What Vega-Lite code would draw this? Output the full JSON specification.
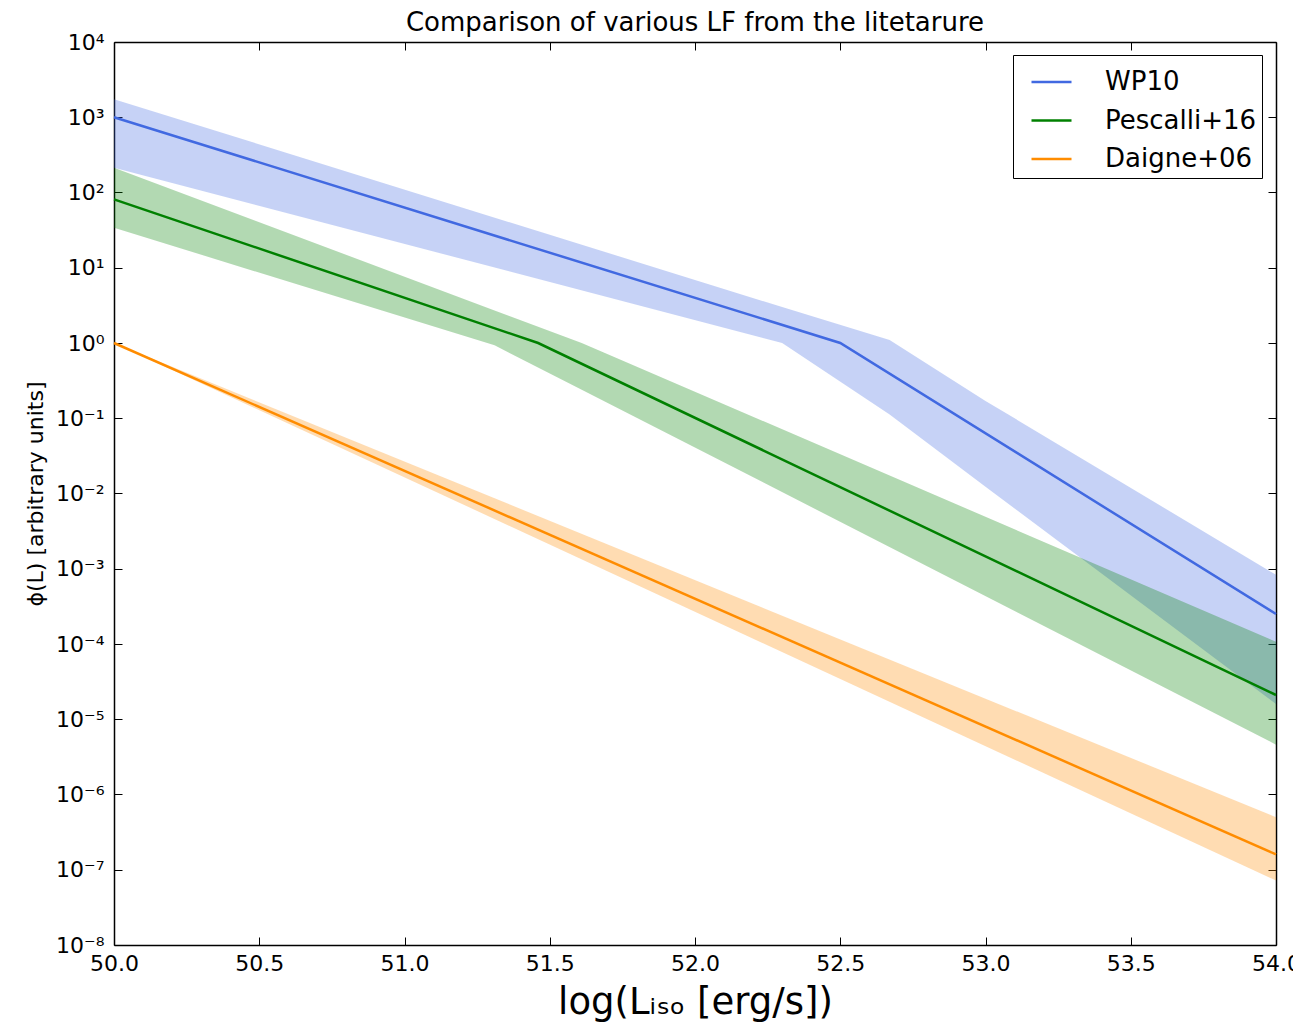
{
  "$schema": "https://vega.github.io/schema/vega-lite/v6.json",
  "width": 1162,
  "height": 903,
  "autosize": {"type": "none"},
  "padding": {"left": 114, "top": 42, "right": 17, "bottom": 80},
  "background": "white",
  "title": {"text": "Comparison of various LF from the litetarure", "fontSize": 26, "font": "DejaVu Sans", "fontWeight": "normal", "color": "black", "offset": -5},
  "config": {
    "view": {"stroke": null},
    "font": "DejaVu Sans",
    "axis": {"grid": false, "domainColor": "black", "domainWidth": 1.5, "tickColor": "black", "tickWidth": 1, "tickSize": -8, "labelColor": "black", "labelFont": "DejaVu Sans", "titleFont": "DejaVu Sans", "titleColor": "black", "titleFontWeight": "normal", "labelFlush": false, "labelOverlap": false}
  },
  "datasets": {
    "bands": [
      {"series": "WP10", "x": 50, "lo": 214, "hi": 1740},
      {"series": "WP10", "x": 52.3, "lo": 1.0, "hi": 3.0},
      {"series": "WP10", "x": 52.67, "lo": 0.112, "hi": 1.1},
      {"series": "WP10", "x": 53.0, "lo": 0.0123, "hi": 0.17},
      {"series": "WP10", "x": 54, "lo": 0.000016, "hi": 0.00083},
      {"series": "Pescalli+16", "x": 50, "lo": 34, "hi": 214},
      {"series": "Pescalli+16", "x": 51.31, "lo": 0.93, "hi": 2.7},
      {"series": "Pescalli+16", "x": 51.61, "lo": 0.24, "hi": 1.0},
      {"series": "Pescalli+16", "x": 54, "lo": 0.0000046, "hi": 0.000107},
      {"series": "Daigne+06", "x": 50, "lo": 1, "hi": 1},
      {"series": "Daigne+06", "x": 54, "lo": 0.000000072, "hi": 0.0000005}
    ],
    "lines": [
      {"series": "WP10", "x": 50, "phi": 1000},
      {"series": "WP10", "x": 52.5, "phi": 1},
      {"series": "WP10", "x": 54, "phi": 0.00025},
      {"series": "Pescalli+16", "x": 50, "phi": 81},
      {"series": "Pescalli+16", "x": 51.46, "phi": 1},
      {"series": "Pescalli+16", "x": 54, "phi": 0.000021},
      {"series": "Daigne+06", "x": 50, "phi": 1},
      {"series": "Daigne+06", "x": 54, "phi": 0.00000016}
    ]
  },
  "resolve": {"axis": {"x": "independent", "y": "independent"}},
  "layer": [
    {
      "data": {"name": "bands"},
      "mark": {"type": "area", "opacity": 0.3, "interpolate": "linear"},
      "encoding": {
        "x": {"field": "x", "type": "quantitative", "scale": {"domain": [50, 54], "nice": false, "zero": false},
              "axis": {"orient": "bottom", "values": [50, 50.5, 51, 51.5, 52, 52.5, 53, 53.5, 54], "format": ".1f", "labelFontSize": 22, "labelPadding": 16, "title": "log(Lᵢₛₒ [erg/s])", "titleFontSize": 37, "titlePadding": 10}},
        "y": {"field": "lo", "type": "quantitative", "scale": {"type": "log", "domain": [1e-8, 10000], "nice": false},
              "axis": {"orient": "left", "values": [1e-8, 1e-7, 1e-6, 1e-5, 1e-4, 1e-3, 1e-2, 1e-1, 1, 10, 100, 1000, 10000],
                       "labelExpr": "'10' + ['⁻⁸','⁻⁷','⁻⁶','⁻⁵','⁻⁴','⁻³','⁻²','⁻¹','⁰','¹','²','³','⁴'][round(log(datum.value)/LN10)+8]",
                       "labelFontSize": 22, "labelPadding": 18, "title": "ϕ(L) [arbitrary units]", "titleFontSize": 22, "titlePadding": 8}},
        "y2": {"field": "hi"},
        "fill": {"field": "series", "type": "nominal", "scale": {"domain": ["Daigne+06", "Pescalli+16", "WP10"], "range": ["#FF8C00", "#008000", "#4169E1"]}, "legend": null}
      }
    },
    {
      "data": {"name": "lines"},
      "mark": {"type": "line", "strokeWidth": 2.5},
      "encoding": {
        "x": {"field": "x", "type": "quantitative", "axis": null},
        "y": {"field": "phi", "type": "quantitative", "axis": null},
        "color": {"field": "series", "type": "nominal", "scale": {"domain": ["WP10", "Pescalli+16", "Daigne+06"], "range": ["#4169E1", "#008000", "#FF8C00"]},
                  "legend": {"title": null, "orient": "none", "legendX": 899, "legendY": 13, "symbolType": "stroke", "symbolSize": 1600, "symbolStrokeWidth": 2.5, "symbolOffset": 11.5, "labelOffset": 32, "labelFontSize": 26, "labelFont": "DejaVu Sans", "labelColor": "black", "rowPadding": 3.5, "padding": 5.5, "strokeColor": "black", "fillColor": "white", "cornerRadius": 0}}
      }
    },
    {
      "data": {"name": "lines"},
      "mark": {"type": "line", "opacity": 0},
      "encoding": {
        "x": {"field": "x", "type": "quantitative", "axis": {"orient": "top", "values": [50, 50.5, 51, 51.5, 52, 52.5, 53, 53.5, 54], "labels": false, "title": null}},
        "y": {"field": "phi", "type": "quantitative", "axis": {"orient": "right", "values": [1e-8, 1e-7, 1e-6, 1e-5, 1e-4, 1e-3, 1e-2, 1e-1, 1, 10, 100, 1000, 10000], "labels": false, "title": null}}
      }
    }
  ]
}
